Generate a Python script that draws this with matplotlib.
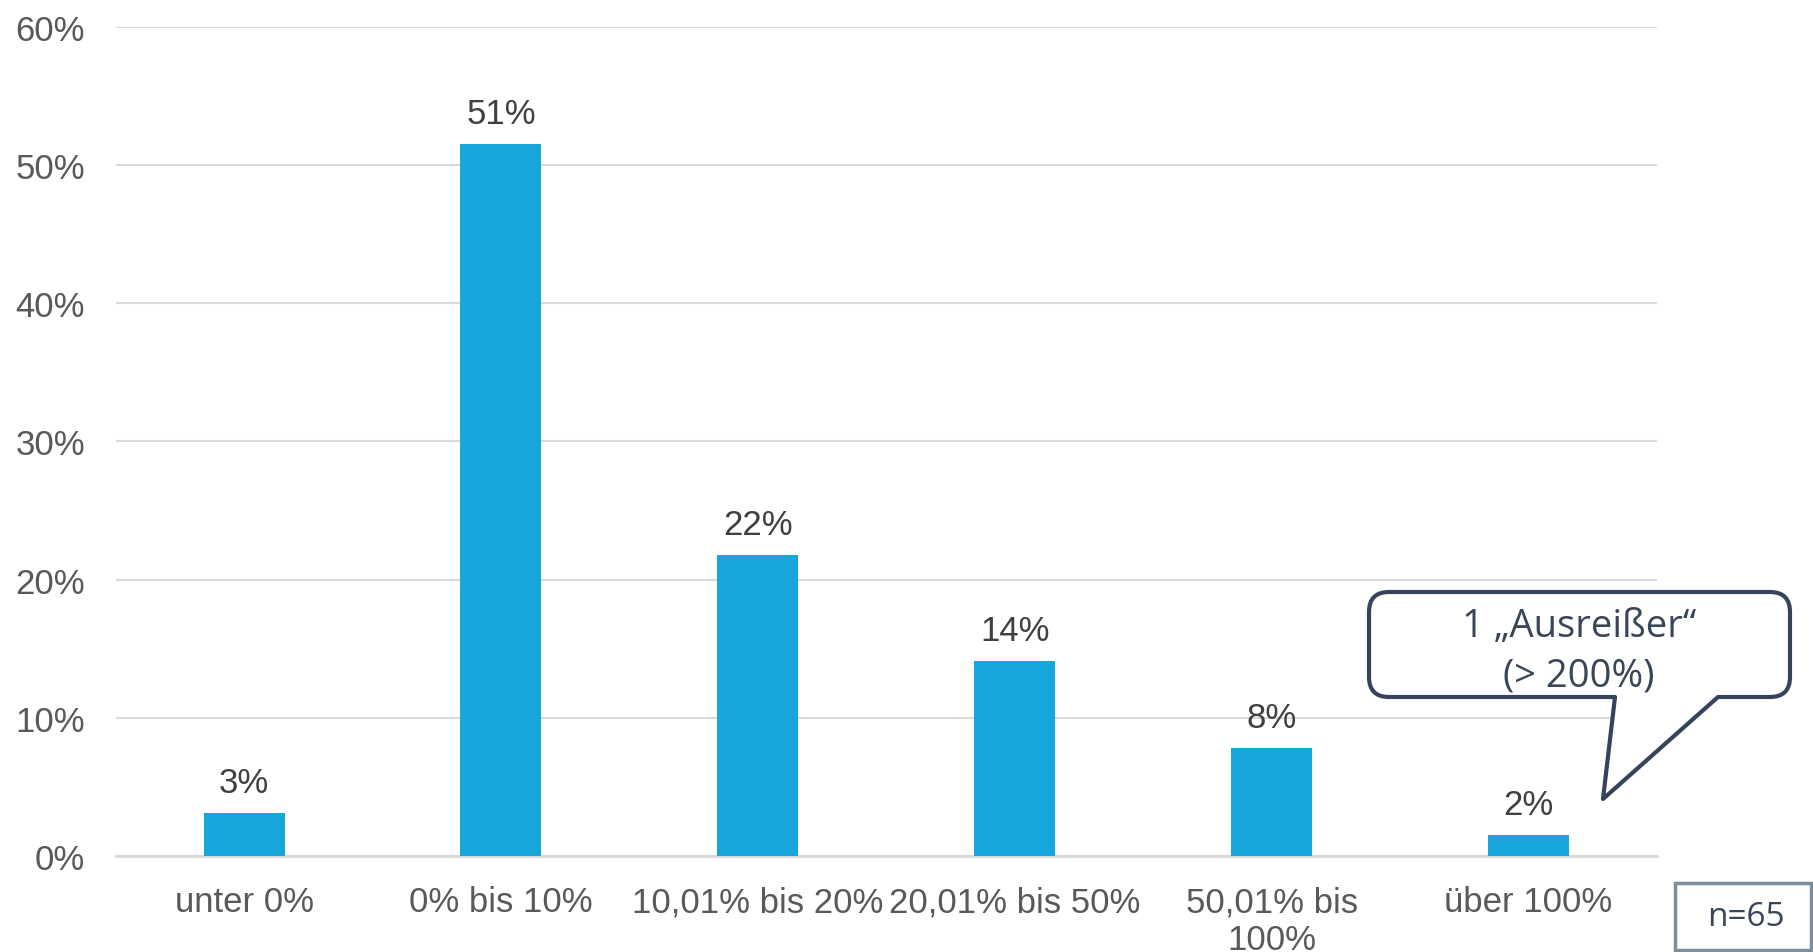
import matplotlib.pyplot as plt
from matplotlib.path import Path
from matplotlib.patches import PathPatch, Rectangle

categories = ["unter 0%", "0% bis 10%", "10,01% bis 20%", "20,01% bis 50%", "50,01% bis\n100%", "über 100%"]
values = [3.1, 51.5, 21.8, 14.1, 7.8, 1.5]
value_labels = ["3%", "51%", "22%", "14%", "8%", "2%"]
y_ticks = [0, 10, 20, 30, 40, 50, 60]
y_tick_labels = ["0%", "10%", "20%", "30%", "40%", "50%", "60%"]

W, H = 1813, 953
fig = plt.figure(figsize=(W / 100, H / 100), dpi=100)
plt.rcParams['font.family'] = ['Liberation Sans', 'DejaVu Sans']

ax = fig.add_axes([115.6 / W, 1 - 857 / H, (1657 - 115.6) / W, (857 - 27.7) / H])
x = list(range(len(categories)))
bars = ax.bar(x, values, width=0.315, color="#17a6dc", zorder=3)

for b, lab in zip(bars, value_labels):
    ax.annotate(lab, (b.get_x() + b.get_width() / 2, b.get_height()),
                xytext=(0, 10), textcoords="offset points", ha="center", va="bottom",
                fontsize=25, color="#404040")

ax.set_xlim(-0.5, len(categories) - 0.5)
ax.set_ylim(0, 60)
ax.set_yticks(y_ticks)
ax.set_yticklabels(y_tick_labels)
ax.set_xticks(x)
ax.set_xticklabels(categories, linespacing=1.2)
ax.tick_params(axis="y", length=0, pad=22, labelsize=25, labelcolor="#595959")
ax.tick_params(axis="x", length=0, pad=21, labelsize=25, labelcolor="#595959")
ax.grid(axis="y", color="#d9d9d9", linewidth=1.5, zorder=0)
for s in ["left", "right", "top"]:
    ax.spines[s].set_visible(False)
ax.spines["bottom"].set_color("#d9d9d9")
ax.spines["bottom"].set_linewidth(2)


def fp(px, py):
    # pixel position (from top left) to figure fraction
    return (px / W, 1 - py / H)


# speech bubble callout
x0, x1, y0, y1, r = 1369, 1790, 593, 698, 20
pts = [
    (x0 + r, y0), (x1 - r, y0), (x1, y0), (x1, y0 + r), (x1, y1 - r), (x1, y1), (x1 - r, y1),
    (1718, y1), (1603, 800), (1615, y1), (x0 + r, y1), (x0, y1), (x0, y1 - r),
    (x0, y0 + r), (x0, y0), (x0 + r, y0), (x0 + r, y0),
]
codes = [Path.MOVETO, Path.LINETO, Path.CURVE3, Path.CURVE3, Path.LINETO, Path.CURVE3, Path.CURVE3,
         Path.LINETO, Path.LINETO, Path.LINETO, Path.LINETO, Path.CURVE3, Path.CURVE3,
         Path.LINETO, Path.CURVE3, Path.CURVE3, Path.CLOSEPOLY]
bubble = PathPatch(Path([fp(*p) for p in pts], codes), transform=fig.transFigure,
                   facecolor="white", edgecolor="#36435a", linewidth=3, joinstyle="round")
fig.add_artist(bubble)
fig.text(*fp(1579, 637), "1 \u201eAusreißer\u201c", ha="center", va="baseline",
         fontsize=27.5, color="#3a4558", family=["Open Sans", "DejaVu Sans"])
fig.text(*fp(1579, 686), "(> 200%)", ha="center", va="baseline",
         fontsize=27.5, color="#3a4558", family=["Open Sans", "DejaVu Sans"])

# n box
nbox = Rectangle(fp(1675, 951), (1811 - 1675) / W, (951 - 884) / H, transform=fig.transFigure,
                 facecolor="white", edgecolor="#7f8c99", linewidth=2.5)
fig.add_artist(nbox)
fig.text(*fp(1746, 918), "n=65", ha="center", va="center",
         fontsize=24, color="#3a4558", family=["Open Sans", "DejaVu Sans"])

fig.savefig("out.png", dpi=100, facecolor="white")
